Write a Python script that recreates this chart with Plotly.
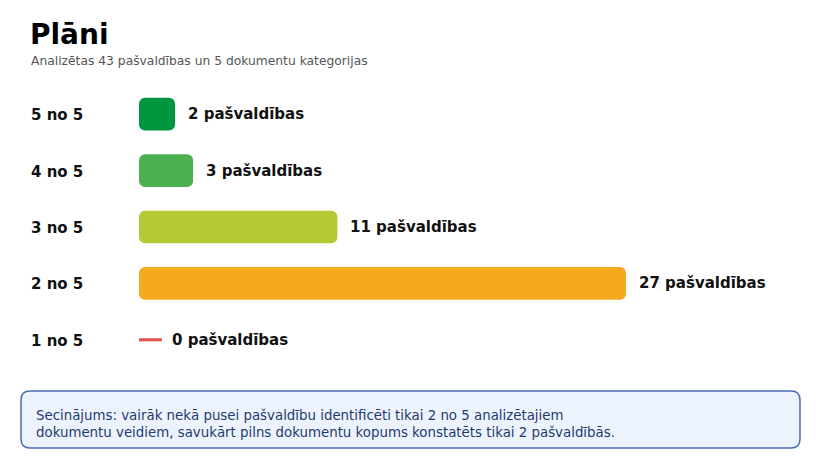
import plotly.graph_objects as go

categories = ["5 no 5", "4 no 5", "3 no 5", "2 no 5", "1 no 5"]
counts = [2, 3, 11, 27, 0]
labels = ["2 pašvaldības", "3 pašvaldības", "11 pašvaldības", "27 pašvaldības", "0 pašvaldības"]
colors = ["#009640", "#4caf50", "#b5c935", "#f4a91f", "#e05252"]
title = "Plāni"
subtitle = "Analizētas 43 pašvaldības un 5 dokumentu kategorijas"
note = ("Secinājums: vairāk nekā pusei pašvaldību identificēti tikai 2 no 5 analizētajiem<br>"
        "dokumentu veidiem, savukārt pilns dokumentu kopums konstatēts tikai 2 pašvaldībās.")

FONT = "DejaVu Sans"
OFF = 8  # page body margin
W_PX, H_PX = 821 - OFF, 462 - OFF
PW, PH = 662, 282
L, T = 139 - OFF, 86 - OFF
R, B = W_PX - L - PW, H_PX - T - PH
XMAX = 27 * PW / 487.0
ZERO_STUB = 1.27  # visual stub length for zero values (axis units)
PAD = 2  # annotation inner padding


def px(x):
    return (x - PAD - OFF - L) / PW


def py(y):
    return (T + PH - (y - OFF)) / PH


fig = go.Figure()

nz = [(c, v, col) for c, v, col in zip(categories, counts, colors) if v > 0]
fig.add_trace(go.Bar(
    y=[c for c, _, _ in nz],
    base=[0 for _ in nz],
    x=[v for _, v, _ in nz],
    orientation="h",
    marker=dict(color=[col for _, _, col in nz], cornerradius=6, line=dict(width=0)),
    width=0.58, hoverinfo="skip", showlegend=False,
))
z = [(c, col) for c, v, col in zip(categories, counts, colors) if v == 0]
fig.add_trace(go.Bar(
    y=[c for c, _ in z], x=[ZERO_STUB for _ in z], orientation="h",
    marker=dict(color=[col for _, col in z], line=dict(width=0)),
    width=0.055, hoverinfo="skip", showlegend=False,
))

annotations = []
for c, v, lab in zip(categories, counts, labels):
    xv = v if v > 0 else ZERO_STUB
    annotations.append(dict(
        x=xv, y=c, xref="x", yref="y", text=lab, showarrow=False,
        xanchor="left", yanchor="middle", xshift=(13 if v > 0 else 10) - PAD,
        font=dict(family=FONT, size=15, color="#111111", weight="bold"),
    ))
    annotations.append(dict(
        x=px(31), y=c, xref="paper", yref="y", text=c, showarrow=False,
        xanchor="left", yanchor="middle", yshift=-1,
        font=dict(family=FONT, size=15, color="#111111", weight="bold"),
    ))

annotations.append(dict(
    x=px(30), y=py(35), xref="paper", yref="paper", text=title, showarrow=False,
    xanchor="left", yanchor="middle",
    font=dict(family=FONT, size=28, color="#000000", weight="bold"),
))
annotations.append(dict(
    x=px(31), y=py(61), xref="paper", yref="paper", text=subtitle, showarrow=False,
    xanchor="left", yanchor="middle",
    font=dict(family=FONT, size=12.3, color="#555555"),
))
annotations.append(dict(
    x=px(36), y=py(424), xref="paper", yref="paper", text=note, showarrow=False,
    xanchor="left", yanchor="middle", align="left",
    font=dict(family=FONT, size=13.35, color="#1f3a70"),
))

# rounded note box (pixel-sized path anchored at plot's bottom-left)
base_x, base_y = L + OFF, T + PH + OFF
x0, x1 = 21 - base_x, 800 - base_x
y0, y1 = -(391 - base_y), -(448 - base_y)
r = 9
path = (f"M {x0 + r},{y0} L {x1 - r},{y0} Q {x1},{y0} {x1},{y0 - r} "
        f"L {x1},{y1 + r} Q {x1},{y1} {x1 - r},{y1} "
        f"L {x0 + r},{y1} Q {x0},{y1} {x0},{y1 + r} "
        f"L {x0},{y0 - r} Q {x0},{y0} {x0 + r},{y0} Z")

fig.update_layout(
    width=W_PX, height=H_PX,
    margin=dict(l=L, r=R, t=T, b=B),
    paper_bgcolor="white", plot_bgcolor="white",
    barmode="overlay",
    xaxis=dict(range=[0, XMAX], visible=False, fixedrange=True),
    yaxis=dict(categoryorder="array", categoryarray=categories[::-1],
               range=[-0.5, 4.5], visible=False, fixedrange=True),
    annotations=annotations,
    shapes=[dict(
        type="path", xref="paper", yref="paper",
        xsizemode="pixel", ysizemode="pixel", xanchor=0, yanchor=0,
        path=path, fillcolor="#edf3fc", line=dict(color="#4a6db4", width=1.5),
        layer="below",
    )],
    font=dict(family=FONT),
)

fig.write_html("out.html", config={"displayModeBar": False})
